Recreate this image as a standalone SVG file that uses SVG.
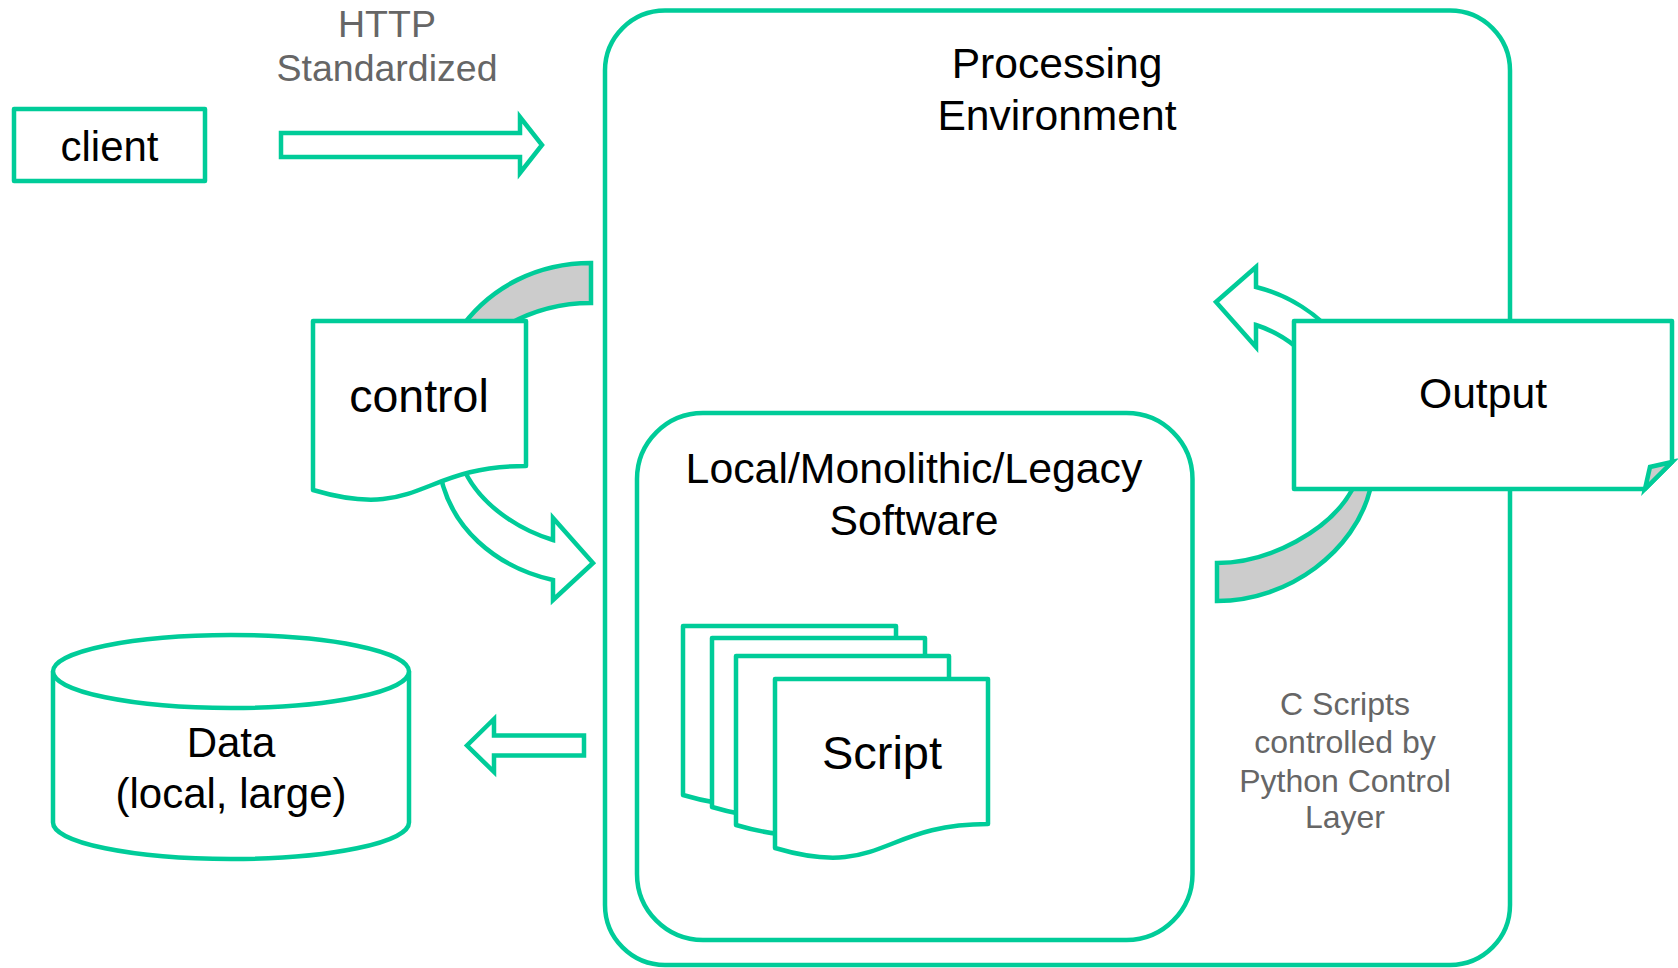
<svg xmlns="http://www.w3.org/2000/svg" width="1678" height="968" viewBox="0 0 1678 968">
  <style>
    .box { fill: #ffffff; stroke: #00CC99; stroke-width: 4.5; stroke-linejoin: round; }
    .frame { fill: none; stroke: #00CC99; stroke-width: 4.5; }
    .arrow { fill: #ffffff; stroke: #00CC99; stroke-width: 4.5; stroke-linejoin: miter; stroke-miterlimit: 4; }
    .band { fill: #CCCCCC; stroke: #00CC99; stroke-width: 4.5; stroke-linejoin: miter; }
    .lbl { font-family: "Liberation Sans", Arial, sans-serif; fill: #000000; text-anchor: middle; }
    .note { font-family: "Liberation Sans", Arial, sans-serif; fill: #666666; text-anchor: middle; }
  </style>
  <defs>
    <!-- flowchart "document" outline, 213 x 181 -->
    <path id="doc" d="M0,0 H213 V145 C106.5,145 106.5,200.5 0,169 Z"/>
  </defs>

  <rect x="0" y="0" width="1678" height="968" fill="#ffffff"/>

  <!-- outer processing environment -->
  <g id="processing-env">
    <rect class="frame" x="605" y="10.5" width="905" height="954.5" rx="60" ry="60"/>
    <text class="lbl" x="1057" y="78" font-size="42.6">Processing</text>
    <text class="lbl" x="1057" y="130" font-size="42.6">Environment</text>
  </g>

  <!-- legacy software container -->
  <g id="legacy-software">
    <rect class="frame" x="637" y="413" width="555.5" height="527" rx="66" ry="66"/>
    <text class="lbl" x="914" y="483" font-size="42.8">Local/Monolithic/Legacy</text>
    <text class="lbl" x="914" y="535" font-size="42.8">Software</text>
  </g>

  <!-- stacked script pages -->
  <g id="scripts">
    <use href="#doc" class="box" x="683" y="626"/>
    <use href="#doc" class="box" x="712" y="638"/>
    <use href="#doc" class="box" x="736" y="656"/>
    <use href="#doc" class="box" x="775" y="679"/>
    <text class="lbl" x="882" y="769" font-size="47">Script</text>
  </g>

  <!-- connectors -->
  <g id="connectors">
    <!-- client to environment -->
    <path class="arrow" d="M281,133 H520 V117 L542,145 L520,173 V157 H281 Z"/>
    <!-- environment to data -->
    <path class="arrow" d="M584,735.5 H494 V719 L467,745.5 L494,772 V755.5 H584 Z"/>
    <!-- control loop: shaded back band and front arrow -->
    <path class="band" d="M591,263 L591,303 C562,303 530,311 502,328 L458,332 C490,285 540,263 591,263 Z"/>
    <path class="arrow" d="M438,460 C445,530 500,568 553,580 L553,600 L593,563 L553,518 L553,540 C520,530 478,505 462,465 Z"/>
    <!-- output loop: front arrow and shaded back band -->
    <path class="arrow" d="M1216,302 L1256,267 L1256,287 A158,158 0 0 1 1375,440 L1340,440 A122,122 0 0 0 1256,325 L1256,347 Z"/>
    <path class="band" d="M1217,563 C1270,563 1330,530 1352,490 L1360,455 L1380,455 L1370,490 C1355,550 1290,601 1217,601 Z"/>
  </g>

  <g id="client">
    <rect class="box" x="14" y="109" width="191" height="72"/>
    <text class="lbl" x="109.5" y="161" font-size="42">client</text>
  </g>

  <g id="http-label">
    <text class="note" x="387" y="37" font-size="37.5">HTTP</text>
    <text class="note" x="387" y="81" font-size="37.5">Standardized</text>
  </g>

  <g id="control">
    <use href="#doc" class="box" x="313" y="321"/>
    <text class="lbl" x="419" y="412" font-size="46.5">control</text>
  </g>

  <g id="output">
    <path class="box" d="M1294,321 H1672 V462 L1645,489 H1294 Z"/>
    <path class="band" d="M1672,462 L1650,467 L1645,489 Z" stroke-linejoin="round"/>
    <text class="lbl" x="1483" y="408" font-size="42.7">Output</text>
  </g>

  <g id="data">
    <path class="box" d="M53,671.5 V822.5 A178,36.5 0 0 0 409,822.5 V671.5"/>
    <ellipse class="box" cx="231" cy="671.5" rx="178" ry="36.5"/>
    <text class="lbl" x="231" y="757" font-size="42">Data</text>
    <text class="lbl" x="231" y="808" font-size="42">(local, large)</text>
  </g>

  <g id="scripts-note">
    <text class="note" x="1345" y="715" font-size="32">C Scripts</text>
    <text class="note" x="1345" y="753" font-size="32">controlled by</text>
    <text class="note" x="1345" y="792" font-size="32">Python Control</text>
    <text class="note" x="1345" y="828" font-size="32">Layer</text>
  </g>
</svg>
